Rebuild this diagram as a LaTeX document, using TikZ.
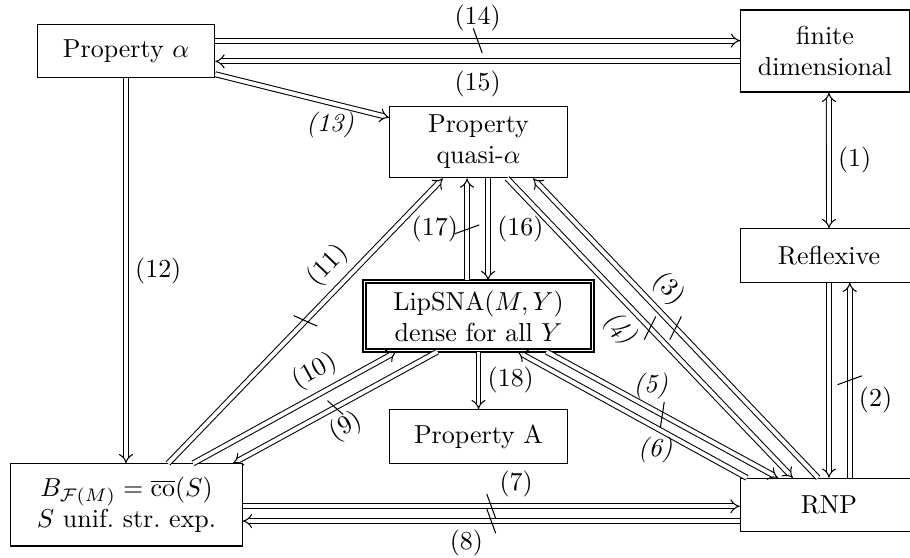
\documentclass[tikz,border=0pt]{standalone}
\usepackage{amssymb}
\usepackage{amsmath}
\usetikzlibrary{arrows.meta}

\begin{document}
\begin{tikzpicture}[
    prop/.style={rectangle, draw, align=center,
                 minimum width=24mm, minimum height=7.2mm},
    imp/.style={double, double distance=1.5pt, -{Implies}},
    iff/.style={double, double distance=1.5pt, {Implies}-{Implies}},
    nope/.style={sloped, draw, rectangle, inner sep=0pt,
                 minimum width=0pt, minimum height=10pt, rotate=20}
  ]
  \useasboundingbox (-6.157,-3.775) rectangle (6.157,3.775);

  \node[prop]                     (alpha) at (-4.452, 3.085) {Property $\alpha$};
  \node[prop, minimum width=22.8mm, minimum height=11.1mm]
                                    (fin) at ( 5.007, 3.085) {finite\\dimensional};
  \node[prop, minimum height=9.7mm] (quasi) at ( 0.318, 1.854) {Property\\quasi-$\alpha$};
  \node[prop]                      (refl) at ( 5.061, 0.318) {Reflexive};
  \node[prop, double, line width=0.7pt, double distance=0.5pt,
        minimum width=30.8mm, minimum height=9.4mm]
                                    (lip) at ( 0.318,-0.501) {$\mathrm{LipSNA}(M,Y)$\\dense for all $Y$};
  \node[prop]                     (propA) at ( 0.318,-2.131) {Property A};
  \node[prop, minimum width=31.3mm, minimum height=11.1mm]
                                   (ball) at (-4.445,-3.058) {$B_{\mathcal{F}(M)}=\overline{\mathrm{co}}(S)$\\$S$ unif.\ str.\ exp.};
  \node[prop]                       (rnp) at ( 5.061,-3.058) {RNP};

  % top row
  \draw[imp] ([yshift=4pt]alpha.east) -- ([yshift=4pt]fin.west)
    node[midway, nope]{} node[midway, above]{(14)};
  \draw[imp] ([yshift=-4pt]fin.west) -- ([yshift=-4pt]alpha.east)
    node[midway, below]{(15)};
  \draw[imp] ([yshift=1.5pt]alpha.south east) -- ([yshift=-4.6pt]quasi.north west)
    node[pos=.66, below]{\textit{(13)}};
  \draw[imp] (alpha.south) -- (alpha.south |- ball.north)
    node[midway, right]{(12)};

  % right column
  \draw[iff] ([xshift=1.5pt]fin.south) -- (refl.north) node[midway, right]{(1)};
  \draw[imp] (refl.south) -- (rnp.north);
  \draw[imp] ([xshift=8pt]rnp.north) -- ([xshift=8pt]refl.south)
    node[midway, nope]{} node[pos=.4, right]{(2)};

  % into RNP
  \draw[imp] ([xshift=-4.2pt]rnp.north) -- ([xshift=21pt]quasi.south)
    node[midway, nope]{} node[pos=.58, sloped, above]{(3)};
  \draw[imp] ([xshift=11pt]quasi.south) -- ([xshift=-13.9pt]rnp.north)
    node[midway, nope]{} node[pos=.45, sloped, below]{\textit{(4)}};
  \draw[imp] ([xshift=26.2pt]lip.south) -- ([xshift=-19.6pt]rnp.north)
    node[midway, nope]{} node[pos=.45, above]{\textit{(5)}};
  \draw[imp] ([xshift=-31.6pt]rnp.north) -- ([xshift=15pt]lip.south)
    node[pos=.4, below]{\textit{(6)}};
  \draw[imp] ([yshift=-0.5pt]ball.east) -- ([yshift=-0.5pt]rnp.west)
    node[midway, nope]{} node[pos=.55, above]{(7)};
  \draw[imp] ([yshift=-6.2pt]rnp.west) -- ([yshift=-6.2pt]ball.east)
    node[midway, nope]{} node[pos=.55, below]{(8)};

  % out of the ball
  \draw[imp] ([xshift=-15.8pt]lip.south) -- ([xshift=41pt]ball.north)
    node[midway, nope, minimum height=8pt]{} node[midway, sloped, below]{(9)};
  \draw[imp] ([xshift=25.6pt]ball.north) -- ([xshift=-31.6pt]lip.south)
    node[pos=.65, sloped, above]{(10)};
  \draw[imp] ([xshift=16pt]ball.north) -- ([xshift=-13.7pt]quasi.south)
    node[midway, nope]{} node[pos=.64, sloped, above]{(11)};

  % centre
  \draw[imp] ([xshift=3.7pt]quasi.south) -- ([xshift=3.7pt]lip.north)
    node[midway, right]{(16)};
  \draw[imp] ([xshift=-4.4pt]lip.north) -- ([xshift=-4.4pt]quasi.south)
    node[midway, nope]{} node[midway, left]{(17)};
  \draw[imp] (lip.south) -- (propA.north) node[midway, right]{(18)};
\end{tikzpicture}
\end{document}
